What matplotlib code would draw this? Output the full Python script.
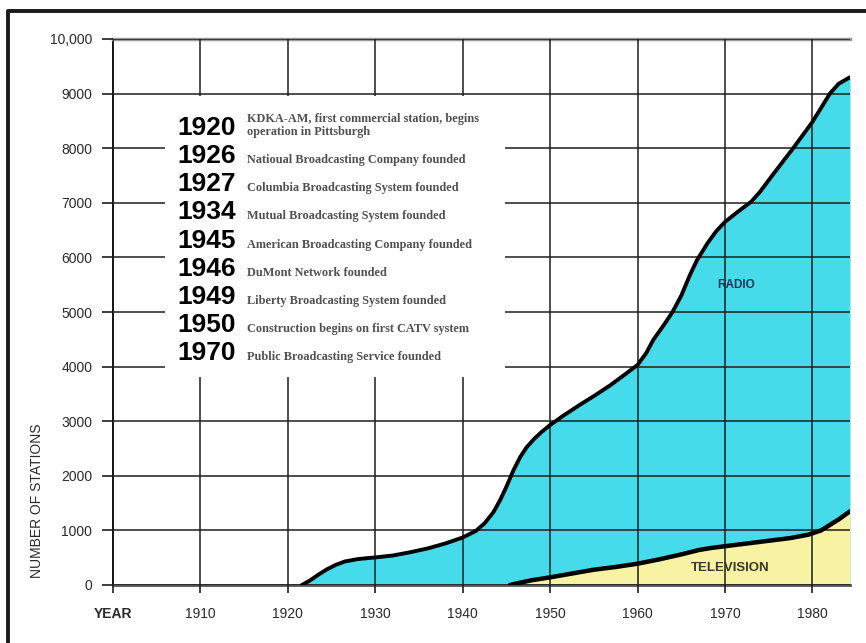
import matplotlib.pyplot as plt
from matplotlib.patches import Rectangle
from matplotlib.lines import Line2D

# Datos
radio_anios = [1921.6, 1922.5, 1923.5, 1924.5, 1925.5, 1926.5, 1928, 1930, 1932, 1934,
               1936, 1938, 1940, 1941.5, 1942.5, 1943.5, 1944.3, 1945, 1945.8, 1946.6,
               1947.3, 1948.2, 1949, 1950, 1951.5, 1953.4, 1955, 1956.9, 1958.5, 1960,
               1961, 1961.8, 1963, 1964, 1965, 1966, 1966.8, 1968, 1969, 1970,
               1971.5, 1973, 1974, 1975.5, 1977.8, 1980, 1981, 1982, 1983, 1984.3]
radio_estaciones = [0, 80, 190, 290, 370, 430, 475, 505, 540, 600,
                    670, 760, 870, 990, 1130, 1330, 1560, 1800, 2100, 2350,
                    2520, 2680, 2800, 2930, 3100, 3300, 3460, 3660, 3850, 4030,
                    4250, 4490, 4760, 5000, 5300, 5680, 5950, 6260, 6480, 6650,
                    6840, 7020, 7200, 7520, 8000, 8480, 8740, 9000, 9180, 9300]

tv_anios = [1945.4, 1946.5, 1948, 1950, 1952.5, 1955, 1957.5, 1960, 1962.5, 1965,
            1967, 1968.5, 1970, 1972.5, 1975, 1977.5, 1979.5, 1981, 1982, 1983, 1984.3]
tv_estaciones = [0, 40, 90, 140, 210, 280, 330, 390, 470, 560,
                 640, 680, 710, 760, 810, 860, 920, 1000, 1100, 1200, 1350]

x_ticks = [1900, 1910, 1920, 1930, 1940, 1950, 1960, 1970, 1980]
x_labels = ["YEAR", "1910", "1920", "1930", "1940", "1950", "1960", "1970", "1980"]
y_ticks = [0, 1000, 2000, 3000, 4000, 5000, 6000, 7000, 8000, 9000, 10000]
y_labels = ["0", "1000", "2000", "3000", "4000", "5000", "6000", "7000", "8000", "9000", "10,000"]

hitos_anio = ["1920", "1926", "1927", "1934", "1945", "1946", "1949", "1950", "1970"]
hitos_texto = [
    "KDKA-AM, first commercial station, begins\noperation in Pittsburgh",
    "Natioual Broadcasting Company founded",
    "Columbia Broadcasting System founded",
    "Mutual Broadcasting System founded",
    "American Broadcasting Company founded",
    "DuMont Network founded",
    "Liberty Broadcasting System founded",
    "Construction begins on first CATV system",
    "Public Broadcasting Service founded",
]

color_radio = "#45dbea"
color_tv = "#f7f3a3"

plt.rcParams['font.family'] = ['Liberation Sans', 'DejaVu Sans']

fig = plt.figure(figsize=(8.66, 6.43), dpi=100)
ax = fig.add_axes([113 / 866, 1 - 585 / 643, (850 - 113) / 866, (585 - 39) / 643])

# Áreas
ax.fill_between(radio_anios, 0, radio_estaciones, color=color_radio, lw=0, zorder=1)
ax.fill_between(tv_anios, 0, tv_estaciones, color=color_tv, lw=0, zorder=1.1)

# Rejilla
ax.set_axisbelow(False)
ax.grid(True, color="#1e1e1e", lw=1.1)

# Cuadro blanco de hitos
ax.add_patch(Rectangle((1905.95, 3810), 1944.85 - 1905.95, 8956 - 3810,
                       facecolor="white", edgecolor="none", zorder=3))

# Curvas
ax.plot(radio_anios, radio_estaciones, color="black", lw=2.8, solid_capstyle="round",
        solid_joinstyle="round", zorder=4)
ax.plot(tv_anios, tv_estaciones, color="black", lw=3.2, solid_capstyle="round",
        solid_joinstyle="round", zorder=4)

ax.set_xlim(1900, 1984.3)
ax.set_ylim(0, 10000)
ax.set_xticks(x_ticks)
ax.set_xticklabels(x_labels)
ax.set_yticks(y_ticks)
ax.set_yticklabels(y_labels)
ax.tick_params(axis="y", length=8, width=1.2, color="#1e1e1e", pad=7,
               labelsize=10, labelcolor="#2a2a2a")
ax.tick_params(axis="x", length=6, width=1.2, color="#1e1e1e", pad=10,
               labelsize=10, labelcolor="#2a2a2a")
ax.get_xticklabels()[0].set_fontweight("bold")

ax.spines["right"].set_visible(False)
ax.spines["top"].set_color("#9a9a9a")
ax.spines["top"].set_linewidth(2.5)
ax.spines["left"].set_linewidth(1.3)
ax.spines["bottom"].set_color("#555555")
ax.spines["bottom"].set_linewidth(2)

# Etiquetas de series
ax.text(1971.3, 5490, "RADIO", fontsize=8.5, fontweight="bold", color="#1c3553",
        ha="center", va="center", zorder=5)
ax.text(1970.6, 310, "TELEVISION", fontsize=9.5, fontweight="bold", color="#3a3a2c",
        ha="center", va="center", zorder=5)

# Hitos
for i, (anio, texto) in enumerate(zip(hitos_anio, hitos_texto)):
    y = 8240 - i * 515
    ax.text(1907.4, y, anio, fontsize=19, fontweight="bold", color="black",
            ha="left", va="baseline", zorder=5)
    ax.text(1915.3, y, texto, fontsize=8.8, fontweight="bold", color="#505050",
            family=["Liberation Serif", "DejaVu Serif"], ha="left", va="baseline",
            linespacing=1.1, zorder=5)

fig.text(37 / 866, 1 - 501 / 643, "NUMBER OF STATIONS", rotation=90, fontsize=10,
         color="#2a2a2a", ha="center", va="center")

# Marco exterior (solo izquierda y arriba)
fig.add_artist(Line2D([8 / 866, 8 / 866, 1.0], [0.0, 1 - 11 / 643, 1 - 11 / 643],
                      transform=fig.transFigure, color="#1a1a1a", lw=2.8))

fig.savefig("out.png", dpi=100)
